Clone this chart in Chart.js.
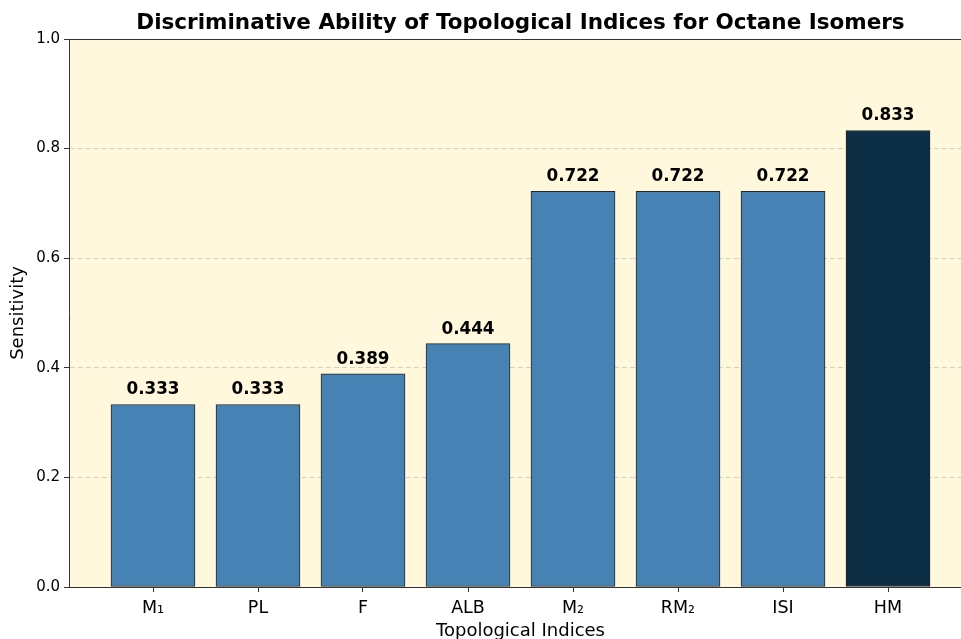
<!DOCTYPE html>
<html>
<head>
<meta charset="utf-8">
<script src="https://cdn.jsdelivr.net/npm/chart.js@4.4.1/dist/chart.umd.min.js"></script>
<style>
  html, body { margin: 0; padding: 0; background: #fff; overflow: hidden; }
  #wrap { width: 961px; height: 639px; overflow: hidden; }
  #wrap div { width: 1000px; height: 642px; }
</style>
</head>
<body>
<div id="wrap"><div><canvas id="sensChart"></canvas></div></div>
<script>
const indices = ['M\u2081', 'PL', 'F', 'ALB', 'M\u2082', 'RM\u2082', 'ISI', 'HM'];
const sensitivity = [0.333, 0.333, 0.389, 0.444, 0.722, 0.722, 0.722, 0.833];
const yTicks = [0, 0.2, 0.4, 0.6, 0.8, 1.0];

const FONT = "'DejaVu Sans', sans-serif";

// background, title, top spine and value labels
const extrasPlugin = {
  id: 'extras',
  beforeDraw(chart) {
    const { ctx, chartArea } = chart;
    ctx.save();
    ctx.fillStyle = '#fff8dc';
    ctx.fillRect(chartArea.left, chartArea.top, chartArea.right - chartArea.left, chartArea.bottom - chartArea.top);
    ctx.restore();
  },
  afterDraw(chart) {
    const { ctx, chartArea } = chart;
    ctx.save();
    ctx.strokeStyle = '#333';
    ctx.lineWidth = 1;
    ctx.beginPath();
    ctx.moveTo(chartArea.left, chartArea.top + 0.5);
    ctx.lineTo(chartArea.right, chartArea.top + 0.5);
    ctx.stroke();

    ctx.fillStyle = '#000';
    ctx.textAlign = 'center';
    ctx.textBaseline = 'middle';
    ctx.font = 'bold 21.5px ' + FONT;
    ctx.fillText('Discriminative Ability of Topological Indices for Octane Isomers',
      (chartArea.left + chartArea.right) / 2, 23);

    ctx.font = 'bold 16.8px ' + FONT;
    ctx.textBaseline = 'bottom';
    const meta = chart.getDatasetMeta(0);
    meta.data.forEach((bar, i) => {
      ctx.fillText(sensitivity[i].toFixed(3), bar.x, bar.y - 6);
    });
    ctx.restore();
  }
};

const barColors = sensitivity.map((v, i) => i === indices.length - 1 ? '#0b2e44' : '#4682b4');

new Chart(document.getElementById('sensChart'), {
  type: 'bar',
  data: {
    datasets: [{
      data: sensitivity.map((v, i) => ({ x: i, y: v })),
      backgroundColor: barColors,
      borderColor: 'rgba(0,0,0,0.85)',
      borderWidth: 1,
      borderSkipped: false,
      barThickness: 84
    }]
  },
  options: {
    responsive: true,
    maintainAspectRatio: false,
    animation: false,
    layout: { padding: { left: 0, right: 28, top: 39, bottom: 0 } },
    plugins: {
      legend: { display: false },
      tooltip: { enabled: false }
    },
    scales: {
      x: {
        type: 'linear',
        offset: false,
        min: -0.8,
        max: 7.8,
        afterBuildTicks(scale) {
          scale.ticks = indices.map((n, i) => ({ value: i }));
        },
        afterFit(scale) { scale.height = 55; },
        ticks: {
          callback: (v) => indices[v],
          font: { family: FONT, size: 17.5 },
          color: '#000',
          padding: 6,
          maxRotation: 0,
          autoSkip: false
        },
        grid: {
          offset: false,
          drawOnChartArea: false,
          tickLength: 5,
          tickColor: '#333'
        },
        border: { color: '#333', width: 1 },
        title: {
          display: true,
          text: 'Topological Indices',
          font: { family: FONT, size: 18 },
          color: '#000',
          padding: { top: 0, bottom: 0 }
        }
      },
      y: {
        min: 0,
        max: 1,
        z: 1,
        afterBuildTicks(scale) {
          scale.ticks = yTicks.map(v => ({ value: v }));
        },
        afterFit(scale) { scale.width = 69; },
        ticks: {
          callback: (v) => v.toFixed(1),
          font: { family: FONT, size: 15 },
          color: '#000',
          padding: 4
        },
        grid: {
          color: 'rgba(160,160,160,0.45)',
          tickLength: 5,
          tickColor: '#333',
          tickBorderDash: [],
          drawTicks: true
        },
        border: { color: '#333', width: 1, dash: [5, 3] },
        title: {
          display: true,
          text: 'Sensitivity',
          font: { family: FONT, size: 18 },
          color: '#000',
          padding: { top: 8, bottom: 4 }
        }
      }
    }
  },
  plugins: [extrasPlugin]
});
</script>
</body>
</html>
